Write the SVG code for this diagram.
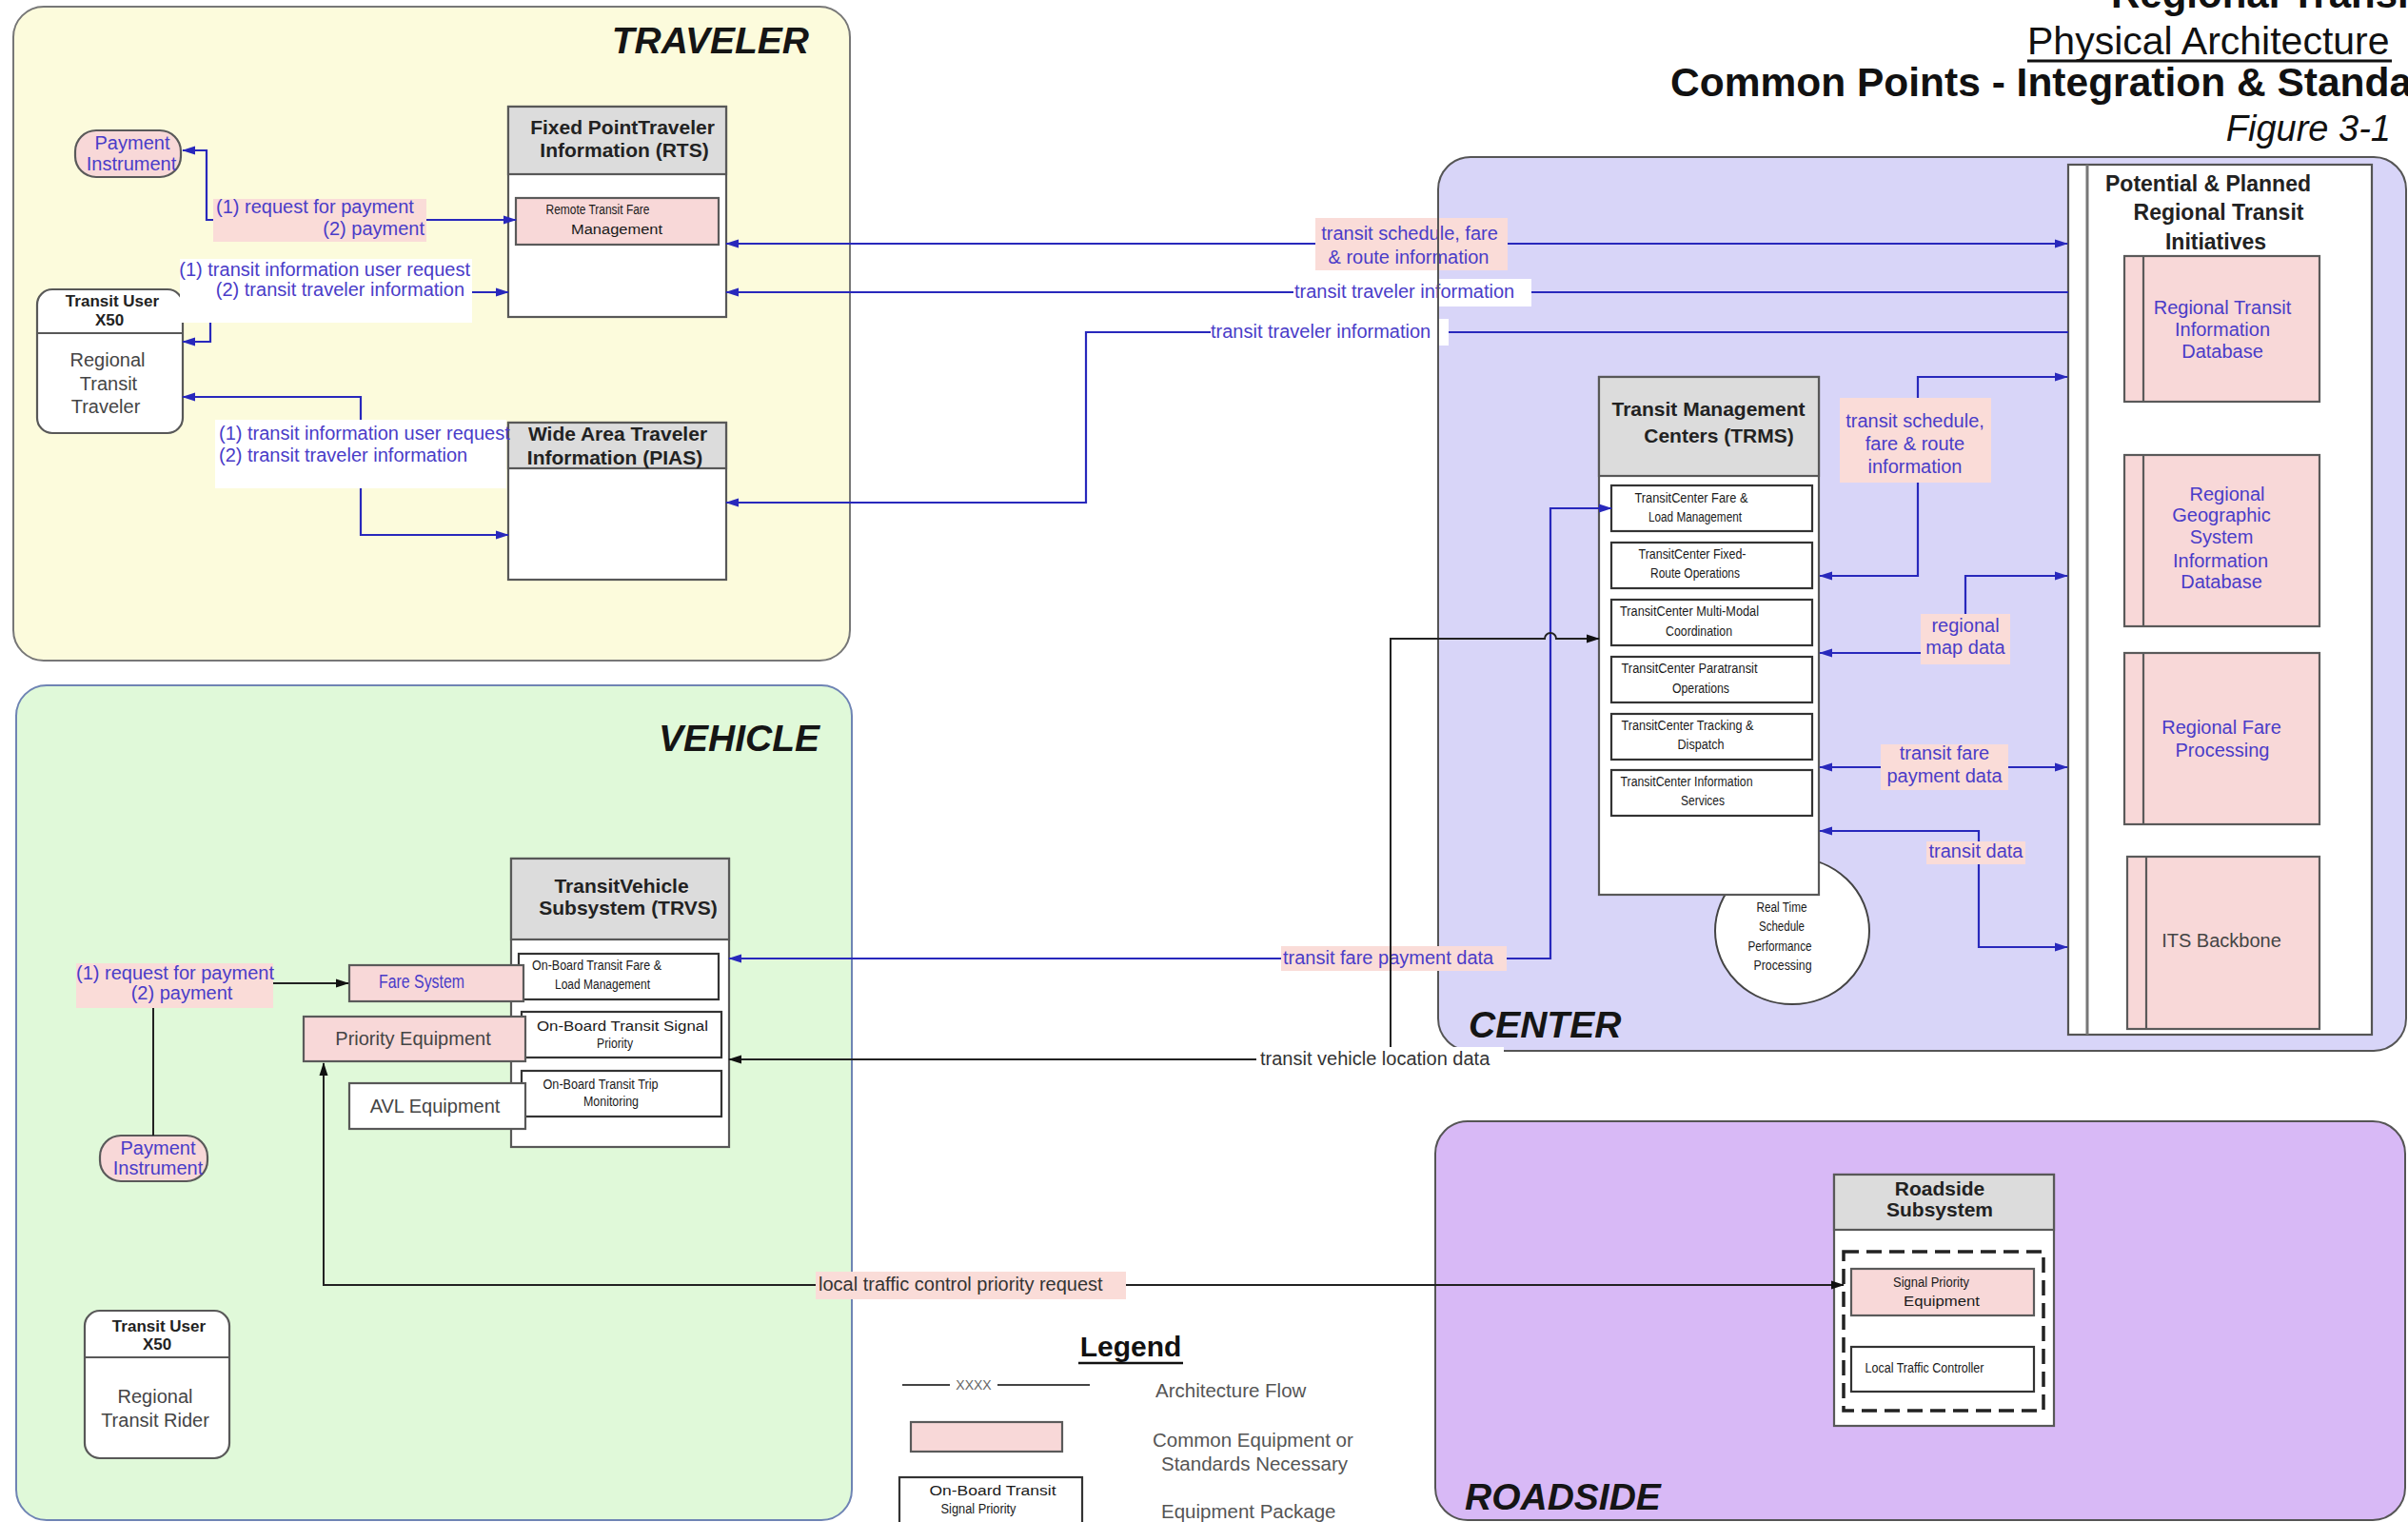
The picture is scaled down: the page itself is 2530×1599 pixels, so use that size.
<svg xmlns="http://www.w3.org/2000/svg" width="2530" height="1599" viewBox="0 0 2530 1599">
<defs>
<style>
text{font-family:"Liberation Sans",Arial,Helvetica,sans-serif}
.zone{font-size:39px;font-weight:bold;font-style:italic;fill:#151515}
.box{fill:#fff;stroke:#585858;stroke-width:2.2}
.hdr{fill:#dcdcdc;stroke:#585858;stroke-width:2.2}
.pk{fill:#f8d8d8;stroke:#5a5a5a;stroke-width:2.2}
.sub{fill:#fff;stroke:#333;stroke-width:2.2}
.ht{font-size:21px;font-weight:bold;fill:#222;text-anchor:middle}
.nt{font-size:14px;fill:#1a1a1a;text-anchor:middle}
.bt{font-size:20px;fill:#4a3cc8;text-anchor:middle}
.gt{font-size:20px;fill:#454545;text-anchor:middle}
.lb{font-size:20px;fill:#4a3cc8}
.lk{font-size:20px;fill:#333}
.lg{font-size:20.5px;fill:#555}
.pbg{fill:#fadcd8}
.wbg{fill:#fff}
.fb{fill:none;stroke:#2828bc;stroke-width:2.2}
.fk{fill:none;stroke:#222;stroke-width:2}
</style>
<marker id="ab" viewBox="0 0 14 10" refX="13" refY="5" markerWidth="14" markerHeight="10" markerUnits="userSpaceOnUse" orient="auto-start-reverse">
<path d="M0,0.5 L14,5 L0,9.5 z" fill="#2828bc"/>
</marker>
<marker id="ak" viewBox="0 0 14 10" refX="13" refY="5" markerWidth="14" markerHeight="10" markerUnits="userSpaceOnUse" orient="auto-start-reverse">
<path d="M0,0.5 L14,5 L0,9.5 z" fill="#111"/>
</marker>
</defs>

<rect width="2530" height="1599" fill="#fff"/>

<!-- zone panels -->
<g id="zones">
<rect x="14" y="7" width="879" height="687" rx="32" fill="#fcfbdc" stroke="#777" stroke-width="2"/>
<text class="zone" x="850" y="56" text-anchor="end">TRAVELER</text>
<rect x="17" y="720" width="878" height="877" rx="32" fill="#e0f9d9" stroke="#6f84b4" stroke-width="2"/>
<text class="zone" x="861" y="789" text-anchor="end">VEHICLE</text>
<rect x="1511" y="165" width="1017" height="939" rx="34" fill="#d8d5f8" stroke="#555" stroke-width="2"/>
<text class="zone" x="1543" y="1090">CENTER</text>
<rect x="1508" y="1178" width="1019" height="419" rx="34" fill="#d8b9f6" stroke="#555" stroke-width="2"/>
<text class="zone" x="1539" y="1586">ROADSIDE</text>
</g>

<!-- heading -->
<g id="heading">
<text x="2218" y="8" font-size="42" font-weight="bold" fill="#111">Regional Transit</text>
<text x="2130" y="57" font-size="41" fill="#111">Physical Architecture</text>
<line x1="2130" y1="64" x2="2513" y2="64" stroke="#111" stroke-width="3"/>
<text x="1755" y="101" font-size="42.5" font-weight="bold" fill="#111">Common Points - Integration &amp; Standards</text>
<text x="2512" y="148" font-size="38" font-style="italic" fill="#111" text-anchor="end">Figure 3-1</text>
</g>

<!-- traveler nodes -->
<g id="payment-instrument-traveler">
<rect x="79" y="137" width="111" height="49" rx="22" class="pk"/>
<text class="bt" x="139" y="157">Payment</text>
<text class="bt" x="138" y="179">Instrument</text>
</g>

<g id="transit-user-traveler">
<rect x="39" y="304" width="153" height="151" rx="16" class="box"/>
<line x1="39" y1="350" x2="192" y2="350" stroke="#585858" stroke-width="2"/>
<text x="118" y="322" font-size="17" font-weight="bold" fill="#222" text-anchor="middle">Transit User</text>
<text x="115" y="342" font-size="17" font-weight="bold" fill="#222" text-anchor="middle">X50</text>
<text class="gt" x="113" y="385">Regional</text>
<text class="gt" x="114" y="410">Transit</text>
<text class="gt" x="111" y="434">Traveler</text>
</g>

<g id="rts">
<rect x="534" y="112" width="229" height="221" class="box"/>
<rect x="534" y="112" width="229" height="71" class="hdr"/>
<text class="ht" x="654" y="141">Fixed PointTraveler</text>
<text class="ht" x="656" y="165">Information (RTS)</text>
<rect x="542" y="208" width="213" height="49" class="pk"/>
<text class="nt" x="628" y="225" font-size="13" textLength="109" lengthAdjust="spacingAndGlyphs">Remote Transit Fare</text>
<text class="nt" x="648" y="246" font-size="13" textLength="96" lengthAdjust="spacingAndGlyphs">Management</text>
</g>

<g id="pias">
<rect x="534" y="444" width="229" height="165" class="box"/>
<rect x="534" y="444" width="229" height="48" class="hdr"/>
<text class="ht" x="649" y="463">Wide Area Traveler</text>
<text class="ht" x="646" y="488">Information (PIAS)</text>
</g>

<!-- center nodes -->
<g id="schedule-performance">
<ellipse cx="1883" cy="978" rx="81" ry="77" fill="#fff" stroke="#444" stroke-width="2"/>
<text class="nt" x="1872" y="958" textLength="53" lengthAdjust="spacingAndGlyphs">Real Time</text>
<text class="nt" x="1872" y="978" textLength="48" lengthAdjust="spacingAndGlyphs">Schedule</text>
<text class="nt" x="1870" y="999" textLength="67" lengthAdjust="spacingAndGlyphs">Performance</text>
<text class="nt" x="1873" y="1019" textLength="61" lengthAdjust="spacingAndGlyphs">Processing</text>
</g>

<g id="trms">
<rect x="1680" y="396" width="231" height="544" class="box"/>
<rect x="1680" y="396" width="231" height="104" class="hdr"/>
<text class="ht" x="1795" y="437">Transit Management</text>
<text class="ht" x="1806" y="465">Centers (TRMS)</text>
<rect x="1693" y="510" width="211" height="48" class="sub"/>
<rect x="1693" y="570" width="211" height="48" class="sub"/>
<rect x="1693" y="630" width="211" height="48" class="sub"/>
<rect x="1693" y="690" width="211" height="48" class="sub"/>
<rect x="1693" y="750" width="211" height="48" class="sub"/>
<rect x="1693" y="809" width="211" height="48" class="sub"/>
<text class="nt" x="1777" y="528" textLength="119" lengthAdjust="spacingAndGlyphs">TransitCenter Fare &amp;</text>
<text class="nt" x="1781" y="548" textLength="98" lengthAdjust="spacingAndGlyphs">Load Management</text>
<text class="nt" x="1778" y="587" textLength="113" lengthAdjust="spacingAndGlyphs">TransitCenter Fixed-</text>
<text class="nt" x="1781" y="607" textLength="94" lengthAdjust="spacingAndGlyphs">Route Operations</text>
<text class="nt" x="1775" y="647" textLength="146" lengthAdjust="spacingAndGlyphs">TransitCenter Multi-Modal</text>
<text class="nt" x="1785" y="668" textLength="70" lengthAdjust="spacingAndGlyphs">Coordination</text>
<text class="nt" x="1775" y="707" textLength="143" lengthAdjust="spacingAndGlyphs">TransitCenter Paratransit</text>
<text class="nt" x="1787" y="728" textLength="60" lengthAdjust="spacingAndGlyphs">Operations</text>
<text class="nt" x="1773" y="767" textLength="139" lengthAdjust="spacingAndGlyphs">TransitCenter Tracking &amp;</text>
<text class="nt" x="1787" y="787" textLength="49" lengthAdjust="spacingAndGlyphs">Dispatch</text>
<text class="nt" x="1772" y="826" textLength="139" lengthAdjust="spacingAndGlyphs">TransitCenter Information</text>
<text class="nt" x="1789" y="846" textLength="46" lengthAdjust="spacingAndGlyphs">Services</text>
</g>

<g id="regional-initiatives">
<rect x="2173" y="173" width="319" height="914" fill="#fff" stroke="#555" stroke-width="2.2"/>
<line x1="2193" y1="173" x2="2193" y2="1087" stroke="#777" stroke-width="3"/>
<text x="2320" y="201" font-size="23" font-weight="bold" fill="#222" text-anchor="middle">Potential  &amp; Planned</text>
<text x="2331" y="231" font-size="23" font-weight="bold" fill="#222" text-anchor="middle">Regional Transit</text>
<text x="2328" y="262" font-size="23" font-weight="bold" fill="#222" text-anchor="middle">Initiatives</text>
<g id="transit-info-db">
<rect x="2232" y="269" width="205" height="153" class="pk"/>
<line x1="2252" y1="269" x2="2252" y2="422" stroke="#5a5a5a" stroke-width="2.2"/>
<text class="bt" x="2335" y="330" font-size="19">Regional Transit</text>
<text class="bt" x="2335" y="353" font-size="19">Information</text>
<text class="bt" x="2335" y="376" font-size="19">Database</text>
</g>
<g id="geographic-db">
<rect x="2232" y="478" width="205" height="180" class="pk"/>
<line x1="2252" y1="478" x2="2252" y2="658" stroke="#5a5a5a" stroke-width="2.2"/>
<text class="bt" x="2340" y="526" font-size="21">Regional</text>
<text class="bt" x="2334" y="548" font-size="21">Geographic</text>
<text class="bt" x="2334" y="571" font-size="21">System</text>
<text class="bt" x="2333" y="596" font-size="21">Information</text>
<text class="bt" x="2334" y="618" font-size="21">Database</text>
</g>
<g id="fare-processing">
<rect x="2232" y="686" width="205" height="180" class="pk"/>
<line x1="2252" y1="686" x2="2252" y2="866" stroke="#5a5a5a" stroke-width="2.2"/>
<text class="bt" x="2334" y="771" font-size="20">Regional Fare</text>
<text class="bt" x="2335" y="795" font-size="20">Processing</text>
</g>
<g id="its-backbone">
<rect x="2235" y="900" width="202" height="181" class="pk"/>
<line x1="2255" y1="900" x2="2255" y2="1081" stroke="#5a5a5a" stroke-width="2.2"/>
<text class="gt" x="2334" y="995">ITS Backbone</text>
</g>
</g>

<!-- vehicle nodes -->
<g id="trvs">
<rect x="537" y="902" width="229" height="303" class="box"/>
<rect x="537" y="902" width="229" height="85" class="hdr"/>
<text class="ht" x="653" y="938" font-size="22">TransitVehicle</text>
<text class="ht" x="660" y="961" font-size="22">Subsystem (TRVS)</text>
<rect x="545" y="1002" width="210" height="48" class="sub"/>
<rect x="548" y="1063" width="210" height="48" class="sub"/>
<rect x="548" y="1125" width="210" height="48" class="sub"/>
<text class="nt" x="627" y="1019" textLength="136" lengthAdjust="spacingAndGlyphs">On-Board Transit Fare &amp;</text>
<text class="nt" x="633" y="1039" textLength="100" lengthAdjust="spacingAndGlyphs">Load Management</text>
<text class="nt" x="654" y="1083" font-size="17" fill="#4a4a4a" textLength="180" lengthAdjust="spacingAndGlyphs">On-Board Transit Signal</text>
<text class="nt" x="646" y="1101" font-size="13" textLength="38" lengthAdjust="spacingAndGlyphs">Priority</text>
<text class="nt" x="631" y="1144" textLength="121" lengthAdjust="spacingAndGlyphs">On-Board Transit Trip</text>
<text class="nt" x="642" y="1162" textLength="58" lengthAdjust="spacingAndGlyphs">Monitoring</text>
</g>

<g id="fare-system">
<rect x="367" y="1014" width="183" height="38" class="pk"/>
<text class="bt" x="443" y="1038" font-size="18" textLength="90" lengthAdjust="spacingAndGlyphs">Fare System</text>
</g>

<g id="priority-equipment">
<rect x="319" y="1068" width="233" height="47" class="pk"/>
<text class="gt" x="434" y="1098" font-size="20.5">Priority Equipment</text>
</g>

<g id="avl-equipment">
<rect x="367" y="1138" width="185" height="48" class="box"/>
<text class="gt" x="457" y="1169" font-size="20.5">AVL Equipment</text>
</g>

<g id="payment-instrument-vehicle">
<rect x="105" y="1193" width="113" height="48" rx="22" class="pk"/>
<text class="bt" x="166" y="1213">Payment</text>
<text class="bt" x="166" y="1234">Instrument</text>
</g>

<g id="transit-user-vehicle">
<rect x="89" y="1377" width="152" height="155" rx="16" class="box"/>
<line x1="89" y1="1426" x2="241" y2="1426" stroke="#585858" stroke-width="2"/>
<text x="167" y="1399" font-size="17" font-weight="bold" fill="#222" text-anchor="middle">Transit User</text>
<text x="165" y="1418" font-size="17" font-weight="bold" fill="#222" text-anchor="middle">X50</text>
<text class="gt" x="163" y="1474">Regional</text>
<text class="gt" x="163" y="1499">Transit Rider</text>
</g>

<!-- roadside node -->
<g id="roadside-subsystem">
<rect x="1927" y="1234" width="231" height="264" class="box"/>
<rect x="1927" y="1234" width="231" height="58" class="hdr"/>
<text class="ht" x="2038" y="1256">Roadside</text>
<text class="ht" x="2038" y="1278">Subsystem</text>
<rect x="1937" y="1315" width="210" height="167" fill="none" stroke="#222" stroke-width="3.5" stroke-dasharray="16 8"/>
<rect x="1945" y="1333" width="192" height="49" class="pk"/>
<text class="nt" x="2029" y="1352" textLength="80" lengthAdjust="spacingAndGlyphs">Signal Priority</text>
<text class="nt" x="2040" y="1372" textLength="80" lengthAdjust="spacingAndGlyphs">Equipment</text>
<rect x="1945" y="1415" width="192" height="47" class="sub"/>
<text class="nt" x="2022" y="1442" textLength="125" lengthAdjust="spacingAndGlyphs">Local Traffic Controller</text>
</g>

<!-- architecture flows -->
<g id="connectors">
<g id="flow-payment-traveler">
<path class="fb" d="M542,231 H217 V158 H192" marker-start="url(#ab)" marker-end="url(#ab)"/>
<rect class="pbg" x="224" y="209" width="224" height="45"/>
<text class="lb" x="227" y="224" font-size="19.5">(1) request for payment</text>
<text class="lb" x="446" y="247" font-size="19.5" text-anchor="end">(2) payment</text>
</g>
<g id="flow-rts-user">
<path class="fb" d="M534,307 H221 V359 H192" marker-start="url(#ab)" marker-end="url(#ab)"/>
<rect class="wbg" x="189" y="272" width="307" height="67"/>
<text class="lb" x="494" y="290" font-size="19.5" text-anchor="end">(1) transit information user request</text>
<text class="lb" x="488" y="311" font-size="19.5" text-anchor="end">(2) transit traveler information</text>
</g>
<g id="flow-user-pias">
<path class="fb" d="M192,417 H379 V562 H534" marker-start="url(#ab)" marker-end="url(#ab)"/>
<rect class="wbg" x="226" y="441" width="306" height="72"/>
<text class="lb" x="230" y="462" font-size="19.5">(1) transit information user request</text>
<text class="lb" x="230" y="485" font-size="19.5">(2) transit traveler information</text>
</g>
<g id="flow-rts-initiatives-schedule">
<path class="fb" d="M763,256 H2172" marker-start="url(#ab)" marker-end="url(#ab)"/>
<rect class="pbg" x="1382" y="229" width="202" height="55"/>
<text class="lb" x="1481" y="252" text-anchor="middle">transit schedule, fare</text>
<text class="lb" x="1480" y="277" text-anchor="middle">&amp; route information</text>
</g>
<g id="flow-rts-initiatives-traveler">
<path class="fb" d="M2173,307 H763" marker-end="url(#ab)"/>
<rect class="wbg" x="1359" y="293" width="250" height="29"/>
<text class="lb" x="1360" y="313">transit traveler information</text>
</g>
<g id="flow-pias-initiatives">
<path class="fb" d="M2173,349 H1141 V528 H763" marker-end="url(#ab)"/>
<rect class="wbg" x="1272" y="335" width="250" height="28"/>
<text class="lb" x="1272" y="355">transit traveler information</text>
</g>
<!-- the centre zone's left edge shows through the label patches -->
<line x1="1511" y1="229" x2="1511" y2="363" stroke="#555" stroke-width="2"/>
<g id="flow-trms-schedule">
<path class="fb" d="M2172,396 H2015 V605 H1912" marker-start="url(#ab)" marker-end="url(#ab)"/>
<rect class="pbg" x="1933" y="418" width="159" height="89"/>
<text class="lb" x="2012" y="449" text-anchor="middle">transit schedule,</text>
<text class="lb" x="2012" y="473" text-anchor="middle">fare &amp; route</text>
<text class="lb" x="2012" y="497" text-anchor="middle">information</text>
</g>
<g id="flow-map-data">
<path class="fb" d="M2172,605 H2065 V686 H1912" marker-start="url(#ab)" marker-end="url(#ab)"/>
<rect class="pbg" x="2018" y="645" width="94" height="53"/>
<text class="lb" x="2065" y="664" text-anchor="middle">regional</text>
<text class="lb" x="2065" y="687" text-anchor="middle">map data</text>
</g>
<g id="flow-fare-processing">
<path class="fb" d="M1912,806 H2172" marker-start="url(#ab)" marker-end="url(#ab)"/>
<rect class="pbg" x="1976" y="782" width="134" height="48"/>
<text class="lb" x="2043" y="798" text-anchor="middle">transit fare</text>
<text class="lb" x="2043" y="822" text-anchor="middle">payment data</text>
</g>
<g id="flow-transit-data">
<path class="fb" d="M1912,873 H2079 V995 H2172" marker-start="url(#ab)" marker-end="url(#ab)"/>
<rect class="pbg" x="2024" y="884" width="104" height="24"/>
<text class="lb" x="2076" y="901" text-anchor="middle">transit data</text>
</g>
<g id="flow-vehicle-fare">
<path class="fb" d="M766,1007 H1629 V534 H1693" marker-start="url(#ab)" marker-end="url(#ab)"/>
<rect class="pbg" x="1346" y="994" width="237" height="26"/>
<text class="lb" x="1348" y="1013">transit fare payment data</text>
</g>
<g id="flow-vehicle-location">
<path class="fk" d="M766,1113 H1461 V671 H1623 A6,6 0 0 1 1635,671 H1680" marker-start="url(#ak)" marker-end="url(#ak)"/>
<rect class="wbg" x="1320" y="1100" width="260" height="27"/>
<text class="lk" x="1324" y="1119">transit vehicle location data</text>
</g>
<g id="flow-signal-priority">
<path class="fk" d="M340,1117 V1350 H1937" marker-start="url(#ak)" marker-end="url(#ak)"/>
<rect class="pbg" x="857" y="1336" width="326" height="29"/>
<text class="lk" x="860" y="1356" fill="#444">local traffic control priority request</text>
</g>
<g id="flow-payment-vehicle">
<path class="fk" d="M287,1033 H366" marker-end="url(#ak)"/>
<path class="fk" d="M161,1059 V1193"/>
<rect class="pbg" x="80" y="1012" width="207" height="47"/>
<text class="lb" x="184" y="1029" text-anchor="middle">(1) request for payment</text>
<text class="lb" x="191" y="1050" text-anchor="middle">(2) payment</text>
</g>
</g>

<!-- legend -->
<g id="legend">
<text x="1188" y="1425" font-size="30" font-weight="bold" fill="#111" text-anchor="middle">Legend</text>
<line x1="1133" y1="1432" x2="1243" y2="1432" stroke="#111" stroke-width="2.5"/>
<line x1="948" y1="1455" x2="998" y2="1455" stroke="#444" stroke-width="2"/>
<line x1="1048" y1="1455" x2="1145" y2="1455" stroke="#444" stroke-width="2"/>
<text x="1023" y="1460" font-size="14" fill="#666" text-anchor="middle">XXXX</text>
<text class="lg" x="1214" y="1468">Architecture Flow</text>
<rect x="957" y="1494" width="159" height="31" class="pk"/>
<text class="lg" x="1211" y="1520">Common Equipment or</text>
<text class="lg" x="1220" y="1545">Standards Necessary</text>
<rect x="945" y="1552" width="192" height="60" class="sub"/>
<text class="nt" x="1043" y="1571" font-size="17" fill="#444" textLength="133" lengthAdjust="spacingAndGlyphs">On-Board Transit</text>
<text class="nt" x="1028" y="1590" font-size="13" textLength="79" lengthAdjust="spacingAndGlyphs">Signal Priority</text>
<text class="lg" x="1220" y="1595">Equipment Package</text>
</g>
</svg>
